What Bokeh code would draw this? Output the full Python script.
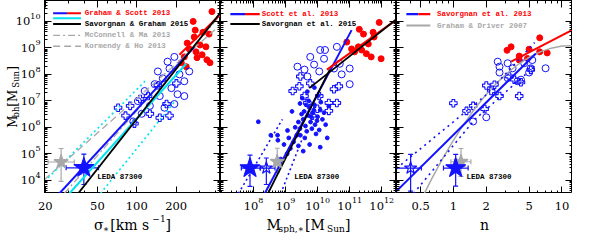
import math
from bokeh.plotting import figure
from bokeh.models import (FixedTicker, LogAxis, CustomJSTickFormatter, Label,
                          Whisker, TeeHead, ColumnDataSource)
from bokeh.layouts import row, column
from bokeh.embed import file_html
from bokeh.resources import INLINE

# ---------------- data ----------------
y_major = [1e4, 1e5, 1e6, 1e7, 1e8, 1e9, 1e10]
y_minor = [k * 10.0 ** e for e in range(3, 11) for k in range(2, 10)]
sigma_major = [20, 50, 100, 200]
sigma_minor = [30, 40, 60, 70, 80, 90, 300, 400]
msph_major = [1e8, 1e9, 1e10, 1e11, 1e12]
msph_minor = [1e7] + [k * 10.0 ** e for e in range(6, 13) for k in range(2, 10)]
n_major = [0.5, 1, 2, 5, 10]
n_minor = [0.3, 0.4, 0.6, 0.7, 0.8, 0.9, 3, 4, 6, 7, 8, 9]

# Panel 1: sigma [km/s] vs log10 M_bh
sig_core = [376, 270, 280, 321, 357, 275, 243, 305, 338, 252, 284, 316, 231, 289, 344, 363, 219, 239]
lm_core_1 = [10.37, 10.00, 9.67, 9.59, 9.52, 9.41, 9.18, 9.11, 9.04, 8.96, 8.85, 8.74, 8.66, 8.63, 8.55, 8.44, 8.44, 8.29]
sig_open = [194, 178, 212, 158, 137, 184, 115, 150, 205, 126, 163, 102, 231, 252, 172, 145, 109, 94, 194, 231]
lm_open_1 = [8.66, 8.22, 8.00, 7.85, 7.63, 7.48, 7.37, 7.18, 7.25, 6.81, 6.74, 6.99, 7.74, 8.11, 8.48, 8.11, 6.51, 6.22, 6.88, 7.18]
sig_plus = [145, 201, 169, 106, 126, 96, 150, 82, 72, 89, 178, 122]
lm_plus_1 = [7.59, 7.66, 6.88, 7.07, 6.51, 6.14, 6.36, 6.44, 6.74, 6.81, 6.44, 7.18]

gs13_blue_sig, gs13_blue_lm = [25.6, 275], [3.50, 9.03]
gs13_red_sig, gs13_red_lm = [212, 437], [8.74, 10.27]
cyan_sig, cyan_lm = [30.5, 239], [3.50, 8.40]
cyan_up_sig, cyan_up_lm = [19.7, 63, 120], [3.96, 6.44, 7.82]
cyan_lo_sig, cyan_lo_lm = [52.8, 126, 200], [3.50, 5.81, 7.04]
sg15_sig, sg15_lm = [35.6, 437], [3.50, 10.33]
kh13_sig, kh13_lm = [19.7, 437], [4.03, 9.87]
mm13_sig, mm13_lm = [27.9, 437], [3.50, 10.23]

leda1_gray = dict(x=26.4, y=4.69, xlo=21.0, xhi=33.3, ylo=3.96, yhi=5.20)
leda1_blue = dict(x=39.4, y=4.47, xlo=28.8, xhi=51.0, ylo=3.84, yhi=4.99)

# Panel 2: log10 M_sph,* vs log10 M_bh
lms_core = [11.92, 11.30, 11.43, 11.73, 11.76, 11.27, 11.58, 11.37, 11.15, 11.67, 11.98, 11.52, 11.06, 10.91]
lm_core_2 = [9.96, 9.70, 9.52, 9.59, 9.41, 9.04, 9.15, 8.92, 8.85, 8.66, 8.59, 8.78, 8.96, 9.22]
lms_open = [10.60, 10.08, 10.23, 9.77, 10.20, 10.69, 11.00, 9.89, 9.59, 10.51, 11.00, 9.68, 10.75, 10.05, 9.37]
lm_open_2 = [9.04, 8.92, 8.92, 8.66, 8.59, 8.40, 8.22, 8.37, 8.18, 8.22, 7.63, 7.92, 8.00, 8.11, 8.29]
lms_plus = [9.46, 9.77, 9.43, 10.66, 10.51, 10.05, 9.59, 10.35, 9.68, 10.60, 9.99, 10.35, 9.22, 9.83]
lm_plus_2 = [7.92, 7.66, 7.55, 7.55, 7.44, 7.18, 7.18, 6.92, 6.92, 6.92, 6.70, 6.62, 7.37, 6.44]
lms_dots = [9.55, 9.62, 9.70, 9.78, 9.85, 9.92, 10.00, 10.08, 9.45, 9.58, 9.66, 9.74, 9.82, 9.90,
            9.98, 10.05, 10.15, 9.50, 9.40, 9.35, 9.60, 9.80, 9.88, 9.95, 10.10, 10.20, 9.72, 9.64,
            9.52, 10.02, 9.30, 9.25, 9.15, 9.05, 8.95, 8.85, 9.40, 9.10, 9.55, 10.30, 10.25, 8.15,
            8.75, 9.20, 9.45, 9.68, 9.90, 10.35, 10.08, 9.75, 8.54, 8.76, 9.06, 9.46]
lm_dots_2 = [6.30, 6.05, 6.45, 6.20, 6.55, 6.10, 6.40, 6.65, 5.95, 6.60, 5.85, 6.75, 5.95, 6.85,
             6.25, 5.90, 6.30, 6.50, 6.20, 5.70, 5.60, 6.40, 6.65, 5.75, 6.95, 6.55, 7.00, 6.85,
             7.10, 7.20, 6.00, 5.45, 5.20, 5.00, 5.35, 4.80, 5.30, 5.60, 5.10, 5.60, 6.10, 6.21,
             5.70, 6.60, 6.90, 7.35, 7.50, 6.80, 5.25, 5.35, 5.70, 5.51, 5.88, 5.70]

s13_blue_ms, s13_blue_lm = [8.35, 11.06], [3.50, 9.67]
s13_red_ms, s13_red_lm = [10.29, 12.46], [8.18, 10.07]
s15_steep_ms, s15_steep_lm = [8.45, 10.38], [3.50, 8.18]
s15_flat_ms, s15_flat_lm = [9.74, 12.46], [7.48, 10.08]
s13_dot1_ms, s13_dot1_lm = [7.53, 8.90], [3.50, 6.30]
s13_dot2_ms, s13_dot2_lm = [8.85, 9.50], [3.50, 5.50]

leda2_blue = dict(x=7.89, y=4.46, xlo=7.62, xhi=8.21, ylo=3.77, yhi=4.95)
leda2_open = dict(x=8.40, y=4.46, xlo=8.21, xhi=8.67, ylo=3.84, yhi=4.84)
leda2_gray = dict(x=8.74, y=4.70, xlo=8.64, xhi=8.84, ylo=4.29, yhi=5.21)

# Panel 3: Sersic index n vs log10 M_bh
n_core = [3.12, 3.40, 4.04, 6.24, 4.98, 6.24, 7.31, 4.04, 4.81]
lm_core_3 = [8.91, 9.04, 8.69, 9.38, 8.95, 8.85, 8.81, 8.54, 8.60]
n_open = [2.56, 2.66, 3.16, 2.66, 3.51, 5.16, 4.49, 4.98, 7.06, 5.33, 3.16, 3.90, 4.19, 1.52, 2.01]
lm_open_3 = [8.48, 8.29, 8.42, 8.07, 8.23, 8.23, 8.42, 8.07, 8.23, 8.54, 7.86, 7.74, 7.80, 6.22, 6.38]
n_plus = [1.00, 1.32, 1.52, 2.01, 2.39, 2.66, 2.23, 3.28, 3.64, 4.19, 4.04, 1.94, 5.16]
lm_plus_3 = [6.91, 6.62, 6.81, 7.58, 7.61, 7.18, 7.37, 7.92, 7.80, 7.70, 7.18, 6.69, 8.17]

sv13_red_n, sv13_red_lm = [3.40, 12.5], [8.48, 9.68]
sv13_blue_n, sv13_blue_lm = [0.2995, 5.75], [3.59, 8.79]
sv13_up_n, sv13_up_lm = [0.2995, 1.95, 5.6], [4.45, 7.18, 9.20]
sv13_lo_n, sv13_lo_lm = [0.43, 1.58, 5.75], [3.50, 6.30, 8.35]
gd07_n = [0.525, 0.631, 0.794, 1.0, 1.259, 1.585, 1.995, 2.512, 3.162, 3.981, 5.012, 6.31, 7.943, 10.0, 12.5]
gd07_lm = [3.40, 4.05, 4.81, 5.51, 6.14, 6.72, 7.23, 7.68, 8.06, 8.39, 8.65, 8.85, 8.99, 9.07, 9.08]

leda3_open = dict(x=0.404, y=4.46, xlo=0.2995, xhi=0.508, ylo=3.59, yhi=4.98)
leda3_blue = dict(x=1.05, y=4.46, xlo=0.811, xhi=1.368, ylo=3.78, yhi=4.98)
leda3_gray = dict(x=1.175, y=4.70, xlo=0.95, xhi=1.45, ylo=4.15, yhi=5.20)

# ---------------- layout / style ----------------
FW, FH = 176, 193
YLAB_W = 44
BOT_H = 40
YLO, YHI = 3.5, 10.79
X1 = (math.log10(19.7), math.log10(437.0))
X2 = (6.97, 12.46)
X3 = (math.log10(0.2995), math.log10(12.5))

BLUE, RED, CYAN, GRAY, BLACK = "#1212ff", "#ff0000", "#00e4f0", "#a8a8a8", "#000000"
SERIF, MONO = "DejaVu Serif", "Liberation Mono"


def pw(v):
    return [10.0 ** a for a in v]


def xdata(xr, px):
    return 10 ** (xr[0] + px / FW * (xr[1] - xr[0]))


def ydata(py):
    return 10 ** (YHI - py / FH * (YHI - YLO))


def style(ax, ticker):
    ax.ticker = ticker
    ax.major_tick_in = 7
    ax.major_tick_out = 0
    ax.minor_tick_in = 3
    ax.minor_tick_out = 0
    ax.axis_line_color = "black"
    ax.major_tick_line_color = "black"
    ax.minor_tick_line_color = "black"
    ax.axis_label = None
    ax.formatter = CustomJSTickFormatter(code="return '';")
    ax.major_label_text_font_size = "0px"
    ax.major_label_standoff = 0


def make_fig(xr, xmaj, xmin):
    p = figure(frame_width=FW, frame_height=FH, x_axis_type="log", y_axis_type="log",
               x_range=(10 ** xr[0], 10 ** xr[1]), y_range=(10 ** YLO, 10 ** YHI),
               min_border=0, output_backend="svg", toolbar_location=None)
    p.grid.visible = False
    p.outline_line_color = "black"
    p.background_fill_color = "white"
    p.border_fill_color = "white"
    style(p.xaxis[0], FixedTicker(ticks=xmaj, minor_ticks=xmin))
    style(p.yaxis[0], FixedTicker(ticks=y_major, minor_ticks=y_minor))
    top = LogAxis()
    style(top, FixedTicker(ticks=xmaj, minor_ticks=xmin))
    p.add_layout(top, "above")
    right = LogAxis()
    style(right, FixedTicker(ticks=y_major, minor_ticks=y_minor))
    p.add_layout(right, "right")
    return p


def text_fig(w, h):
    f = figure(frame_width=w, frame_height=h, x_range=(0, w), y_range=(0, h),
               min_border=0, x_axis_location=None, y_axis_location=None,
               output_backend="svg", toolbar_location=None)
    f.grid.visible = False
    f.outline_line_color = None
    f.background_fill_color = "white"
    f.border_fill_color = "white"
    return f


def errbars(p, d, color, logx=False):
    f = (lambda v: 10 ** v) if logx else (lambda v: v)
    src = ColumnDataSource(dict(x=[f(d["x"])], y=[10 ** d["y"]], xlo=[f(d["xlo"])], xhi=[f(d["xhi"])],
                                ylo=[10 ** d["ylo"]], yhi=[10 ** d["yhi"]]))
    for dim, base, lo, hi in (("height", "x", "ylo", "yhi"), ("width", "y", "xlo", "xhi")):
        p.add_layout(Whisker(source=src, base=base, lower=lo, upper=hi, dimension=dim,
                             line_color=color, line_width=1.2, level="underlay",
                             upper_head=TeeHead(size=5, line_color=color, line_width=1.2),
                             lower_head=TeeHead(size=5, line_color=color, line_width=1.2)))


def star(p, d, color, size, filled, logx=False):
    x = 10 ** d["x"] if logx else d["x"]
    p.scatter([x], [10 ** d["y"]], marker="star", size=size, line_color=color, line_width=1.2,
              fill_color=color if filled else None)


def text(p, x, y, t, color="black", size="7.5px"):
    p.add_layout(Label(x=x, y=y, text=t, text_font=MONO, text_font_style="bold",
                       text_font_size=size, text_color=color, text_baseline="middle",
                       text_align="left"))


def leg_row(p, xr, f0, f1, ft, fy, segs, label, tcolor):
    yv = ydata(fy * FH)
    for a, b, color, dash, w in segs:
        x0 = xdata(xr, (f0 + a * (f1 - f0)) * FW)
        x1 = xdata(xr, (f0 + b * (f1 - f0)) * FW)
        p.line([x0, x1], [yv, yv], line_color=color, line_dash=dash, line_width=w)
    if label:
        text(p, xdata(xr, ft * FW), yv, label, tcolor)


EM = {'M': 0.86, 'b': 0.64, 'h': 0.64, 'S': 0.72, 'u': 0.64, 'n': 0.64, 's': 0.51, 'p': 0.64,
      ',': 0.32, '\u2217': 0.84, ' ': 0.32, '[': 0.39, ']': 0.39, 'k': 0.62, 'm': 0.95,
      '\u2212': 0.84, '\u03c3': 0.63, '.': 0.32}
for _d in "0123456789":
    EM[_d] = 0.636


def tw(s, size):
    return sum(EM.get(c, 0.6) for c in s) * size


def lab(f, x, y, t, size, align="left", baseline="alphabetic", angle=0.0):
    f.add_layout(Label(x=x, y=y, text=t, text_font=SERIF, text_font_size=f"{size}px",
                       text_align=align, text_baseline=baseline, text_color="black",
                       angle=angle, angle_units="rad"))


def hlabel(f, cx, pieces, base_y):
    total = sum(tw(p[0], p[1]) + (p[3] if len(p) > 3 else 0) for p in pieces)
    x = cx - total / 2
    for p in pieces:
        t, s, d = p[0], p[1], p[2]
        x += p[3] if len(p) > 3 else 0
        lab(f, x, base_y - d, t, s)
        x += tw(t, s)


def vlabel(f, pieces, base_x, cy):
    total = sum(tw(t, s) for t, s, d in pieces)
    y = cy - total / 2
    for t, s, d in pieces:
        lab(f, base_x + d, y, t, s, angle=math.pi / 2)
        y += tw(t, s)


# ---------------- panel 1 ----------------
p1 = make_fig(X1, sigma_major, sigma_minor)
p1.scatter(sig_core, pw(lm_core_1), marker="circle", size=6, fill_color=RED, line_color=RED)
p1.scatter(sig_open, pw(lm_open_1), marker="circle", size=7, fill_color=None, line_color=BLUE, line_width=1)
p1.scatter(sig_plus, pw(lm_plus_1), marker="plus", size=7.5, fill_color=None, line_color=BLUE, line_width=1.1)
p1.line(kh13_sig, pw(kh13_lm), line_color=GRAY, line_dash="7 4", line_width=1.3)
p1.line(mm13_sig, pw(mm13_lm), line_color=GRAY, line_dash="7 3 2 3", line_width=1.3)
p1.line(cyan_up_sig, pw(cyan_up_lm), line_color=CYAN, line_dash="2 3", line_width=1.6)
p1.line(cyan_lo_sig, pw(cyan_lo_lm), line_color=CYAN, line_dash="2 3", line_width=1.6)
p1.line(cyan_sig, pw(cyan_lm), line_color=CYAN, line_width=2)
p1.line(gs13_blue_sig, pw(gs13_blue_lm), line_color=BLUE, line_width=2)
p1.line(gs13_red_sig, pw(gs13_red_lm), line_color=RED, line_width=2)
p1.line(sg15_sig, pw(sg15_lm), line_color=BLACK, line_width=1.8)
errbars(p1, leda1_gray, GRAY)
errbars(p1, leda1_blue, BLUE)
star(p1, leda1_gray, GRAY, 15, True)
star(p1, leda1_blue, BLUE, 21, True)
text(p1, 49.9, 10 ** 4.13, "LEDA 87300")
leg_row(p1, X1, 0.049, 0.207, 0.229, 0.066, [(0, 0.5, BLUE, "solid", 2.2), (0.5, 1, RED, "solid", 2.2)],
        "Graham & Scott 2013", RED)
leg_row(p1, X1, 0.049, 0.207, 0.229, 0.092, [(0, 1, CYAN, "solid", 2.2)], None, None)
leg_row(p1, X1, 0.049, 0.207, 0.229, 0.122, [(0, 1, BLACK, "solid", 2)], "Savorgnan & Graham 2015", BLACK)
leg_row(p1, X1, 0.049, 0.207, 0.229, 0.181, [(0, 1, GRAY, "7 3 2 3", 1.3)], "McConnell & Ma 2013", GRAY)
leg_row(p1, X1, 0.049, 0.207, 0.229, 0.237, [(0, 1, GRAY, "7 4", 1.3)], "Kormendy & Ho 2013", GRAY)

# ---------------- panel 2 ----------------
p2 = make_fig(X2, msph_major, msph_minor)
p2.scatter(pw(lms_dots), pw(lm_dots_2), marker="circle", size=3.8, fill_color=BLUE, line_color=BLUE)
p2.scatter(pw(lms_core), pw(lm_core_2), marker="circle", size=6, fill_color=RED, line_color=RED)
p2.scatter(pw(lms_open), pw(lm_open_2), marker="circle", size=7, fill_color=None, line_color=BLUE, line_width=1)
p2.scatter(pw(lms_plus), pw(lm_plus_2), marker="plus", size=7.5, fill_color=None, line_color=BLUE, line_width=1.1)
p2.line(pw(s13_dot1_ms), pw(s13_dot1_lm), line_color=BLUE, line_dash="2 3", line_width=1.6)
p2.line(pw(s13_dot2_ms), pw(s13_dot2_lm), line_color=BLUE, line_dash="2 3", line_width=1.6)
p2.line(pw(s13_blue_ms), pw(s13_blue_lm), line_color=BLUE, line_width=2)
p2.line(pw(s13_red_ms), pw(s13_red_lm), line_color=RED, line_width=2)
p2.line(pw(s15_steep_ms), pw(s15_steep_lm), line_color=BLACK, line_width=1.8)
p2.line(pw(s15_flat_ms), pw(s15_flat_lm), line_color=BLACK, line_width=1.8)
errbars(p2, leda2_gray, GRAY, True)
errbars(p2, leda2_blue, BLUE, True)
errbars(p2, leda2_open, BLUE, True)
star(p2, leda2_gray, GRAY, 15, True, True)
star(p2, leda2_blue, BLUE, 21, True, True)
star(p2, leda2_open, BLUE, 13, False, True)
text(p2, 10 ** 9.27, 10 ** 4.13, "LEDA 87300")
leg_row(p2, X2, 0.056, 0.223, 0.235, 0.071, [(0, 0.5, BLUE, "solid", 2.2), (0.5, 1, RED, "solid", 2.2)],
        "Scott et al. 2013", RED)
leg_row(p2, X2, 0.056, 0.223, 0.235, 0.122, [(0, 1, BLACK, "solid", 2)], "Savorgnan et al. 2015", BLACK)

# ---------------- panel 3 ----------------
p3 = make_fig(X3, n_major, n_minor)
p3.scatter(n_core, pw(lm_core_3), marker="circle", size=6, fill_color=RED, line_color=RED)
p3.scatter(n_open, pw(lm_open_3), marker="circle", size=7, fill_color=None, line_color=BLUE, line_width=1)
p3.scatter(n_plus, pw(lm_plus_3), marker="plus", size=7.5, fill_color=None, line_color=BLUE, line_width=1.1)
p3.line(gd07_n, pw(gd07_lm), line_color=GRAY, line_width=1.5)
p3.line(sv13_up_n, pw(sv13_up_lm), line_color=BLUE, line_dash="2 4", line_width=1.6)
p3.line(sv13_lo_n, pw(sv13_lo_lm), line_color=BLUE, line_dash="2 4", line_width=1.6)
p3.line(sv13_blue_n, pw(sv13_blue_lm), line_color=BLUE, line_width=2)
p3.line(sv13_red_n, pw(sv13_red_lm), line_color=RED, line_width=2)
errbars(p3, leda3_gray, GRAY)
errbars(p3, leda3_open, BLUE)
errbars(p3, leda3_blue, BLUE)
star(p3, leda3_gray, GRAY, 15, True)
star(p3, leda3_open, BLUE, 13, False)
star(p3, leda3_blue, BLUE, 21, True)
text(p3, 1.324, 10 ** 4.13, "LEDA 87300")
leg_row(p3, X3, 0.056, 0.192, 0.230, 0.071, [(0, 0.5, BLUE, "solid", 2.2), (0.5, 1, RED, "solid", 2.2)],
        "Savorgnan et al. 2013", RED)
leg_row(p3, X3, 0.056, 0.192, 0.230, 0.130, [(0, 1, GRAY, "solid", 2)], "Graham & Driver 2007", GRAY)

# ---------------- tick labels and axis titles (own canvases) ----------------
TICK = 11.5
EXP = 8
ylab = text_fig(YLAB_W, FH)
for t in y_major:
    yy = (math.log10(t) - YLO) / (YHI - YLO) * FH
    e = str(int(round(math.log10(t))))
    we = tw(e, EXP)
    lab(ylab, YLAB_W - 4 - we, yy, "10", TICK, align="right", baseline="middle")
    lab(ylab, YLAB_W - 4 - we, yy + 5, e, EXP, align="left", baseline="middle")
vlabel(ylab, [("M", 12, 0), ("bh", 8.5, 3), (" [M", 12, 0), ("Sun", 8.5, 3), ("]", 12, 0)], 12, FH / 2)

bot = text_fig(YLAB_W + 3 * FW, BOT_H)
TY = BOT_H - 12


def tick_x(i, xr, t):
    return YLAB_W + i * FW + (math.log10(t) - xr[0]) / (xr[1] - xr[0]) * FW


for t in sigma_major:
    lab(bot, tick_x(0, X1, t), TY, f"{t:g}", TICK, align="center", baseline="middle")
for t in msph_major:
    e = str(int(round(math.log10(t))))
    w10, we = tw("10", TICK), tw(e, EXP)
    x0 = tick_x(1, X2, t) - (w10 + we) / 2
    lab(bot, x0, TY, "10", TICK, align="left", baseline="middle")
    lab(bot, x0 + w10, TY + 5, e, EXP, align="left", baseline="middle")
for t in n_major:
    lab(bot, tick_x(2, X3, t), TY, f"{t:g}", TICK, align="center", baseline="middle")

BASE = BOT_H - 31
hlabel(bot, YLAB_W + FW / 2,
       [("\u03c3", 14, 0), ("\u2217", 9, 4), (" [km s", 14, 0), ("\u22121", 9, -6, -1.5), ("]", 14, 0)], BASE)
hlabel(bot, YLAB_W + FW * 1.5,
       [("M", 14, 0), ("sph,\u2217", 9, 4), (" [M", 14, 0), ("Sun", 9, 4), ("]", 14, 0)], BASE)
hlabel(bot, YLAB_W + FW * 2.5, [("n", 14, 0)], BASE)

layout = column(row(ylab, p1, p2, p3), bot)
open("out.html", "w").write(file_html(layout, INLINE))
